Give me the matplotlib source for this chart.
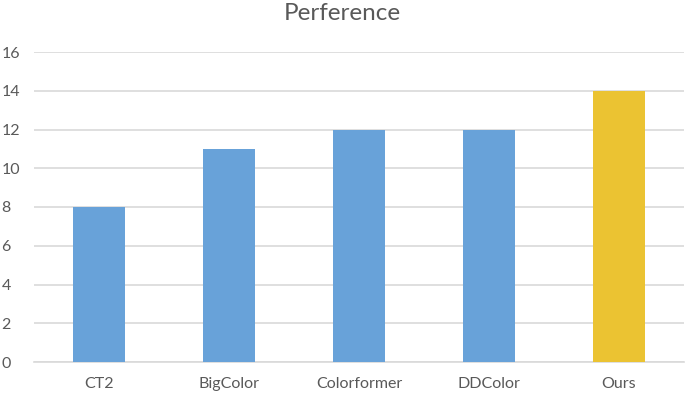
import matplotlib.pyplot as plt

methods = ['CT2', 'BigColor', 'Colorformer', 'DDColor', 'Ours']
votes = [8, 11, 12, 12, 14]
bar_colors = ['#68A2D9', '#68A2D9', '#68A2D9', '#68A2D9', '#EBC332']
yticks = [0, 2, 4, 6, 8, 10, 12, 14, 16]

plt.rcParams['font.family'] = ['Lato', 'DejaVu Sans']

fig = plt.figure(figsize=(6.85, 3.95), dpi=100)
ax = fig.add_axes([34 / 685, (395 - 362) / 395, 650 / 685, 310 / 395])

x = list(range(len(methods)))
ax.bar(x, votes, width=0.4, color=bar_colors, zorder=3)

ax.set_xlim(-0.5, len(methods) - 0.5)
ax.set_ylim(0, 16)
ax.set_yticks(yticks)
ax.set_xticks(x)
ax.set_xticklabels(methods)
ax.yaxis.grid(True, color='#D9D9D9', linewidth=1.2, zorder=0)

for side in ['top', 'right', 'left']:
    ax.spines[side].set_visible(False)
ax.spines['bottom'].set_color('#D9D9D9')
ax.spines['bottom'].set_linewidth(1.2)
ax.tick_params(length=0, colors='#595959', labelsize=11.5)
ax.tick_params(axis='y', pad=23.5)
ax.tick_params(axis='x', pad=11)
for lab in ax.get_yticklabels():
    lab.set_horizontalalignment('left')

fig.text(0.5, 1 - 13 / 395, 'Perference', ha='center', va='center',
         fontsize=17.5, color='#595959')

fig.savefig('out.png', dpi=100)
